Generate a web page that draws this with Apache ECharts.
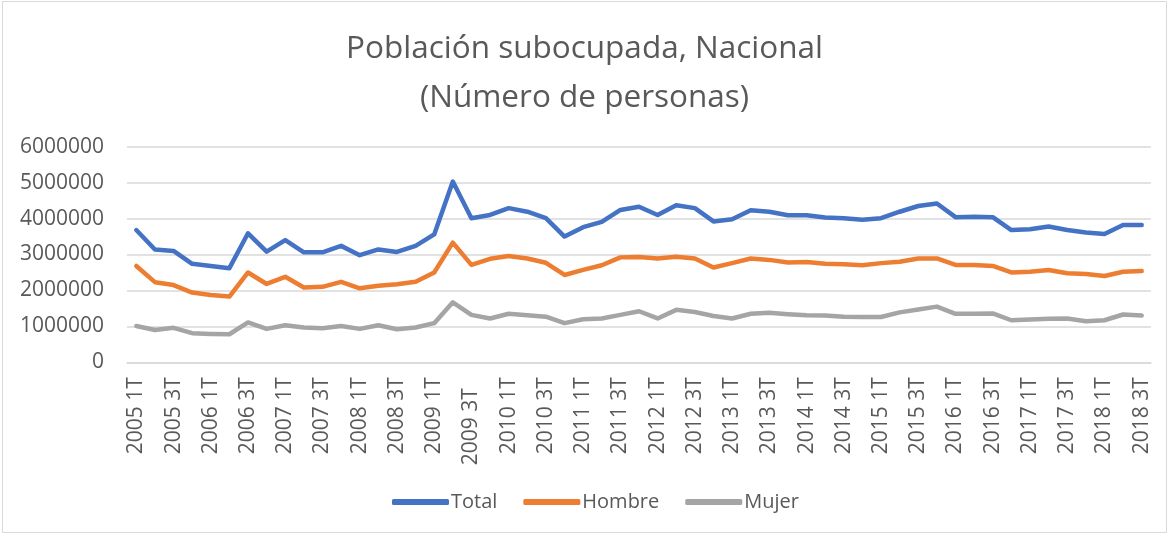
<!DOCTYPE html>
<html>
<head>
<meta charset="utf-8">
<script src="https://cdn.jsdelivr.net/npm/echarts@6/dist/echarts.min.js"></script>
<style>
html,body{margin:0;padding:0;background:#fff;}
#chart{width:1169px;height:539px;}
</style>
</head>
<body>
<div id="chart"></div>
<script>
const categories = [
  "2005 1T","2005 2T","2005 3T","2005 4T",
  "2006 1T","2006 2T","2006 3T","2006 4T",
  "2007 1T","2007 2T","2007 3T","2007 4T",
  "2008 1T","2008 2T","2008 3T","2008 4T",
  "2009 1T","2009 2T","2009 3T  ","2009 4T",
  "2010 1T","2010 2T","2010 3T","2010 4T",
  "2011 1T","2011 2T","2011 3T","2011 4T",
  "2012 1T","2012 2T","2012 3T","2012 4T",
  "2013 1T","2013 2T","2013 3T","2013 4T",
  "2014 1T","2014 2T","2014 3T","2014 4T",
  "2015 1T","2015 2T","2015 3T","2015 4T",
  "2016 1T","2016 2T","2016 3T","2016 4T",
  "2017 1T","2017 2T","2017 3T","2017 4T",
  "2018 1T","2018 2T","2018 3T"
];
const total = [
  3680000,3140000,3100000,2740000,2680000,2620000,3590000,3080000,3400000,3060000,
  3060000,3240000,2980000,3140000,3070000,3240000,3560000,5030000,4010000,4100000,
  4290000,4190000,4010000,3500000,3760000,3910000,4240000,4330000,4100000,4370000,
  4290000,3920000,3980000,4230000,4190000,4090000,4090000,4030000,4010000,3970000,
  4010000,4190000,4350000,4420000,4040000,4050000,4040000,3680000,3700000,3780000,
  3680000,3610000,3570000,3820000,3820000
];
const hombre = [
  2680000,2230000,2150000,1940000,1870000,1830000,2500000,2180000,2380000,2080000,
  2100000,2240000,2060000,2130000,2170000,2240000,2500000,3330000,2710000,2880000,
  2960000,2890000,2770000,2430000,2570000,2700000,2920000,2930000,2890000,2940000,
  2890000,2640000,2760000,2890000,2850000,2780000,2790000,2740000,2730000,2700000,
  2760000,2800000,2890000,2890000,2710000,2710000,2680000,2500000,2520000,2570000,
  2480000,2460000,2400000,2520000,2540000
];
const mujer = [
  1010000,900000,960000,810000,790000,780000,1110000,930000,1030000,970000,
  950000,1010000,930000,1030000,920000,970000,1090000,1670000,1320000,1220000,
  1350000,1310000,1270000,1090000,1200000,1220000,1320000,1420000,1220000,1460000,
  1400000,1290000,1220000,1350000,1380000,1340000,1310000,1300000,1270000,1260000,
  1260000,1390000,1470000,1550000,1350000,1350000,1360000,1170000,1190000,1210000,
  1220000,1140000,1170000,1330000,1300000
];
const yTicks = { min: 0, max: 6000000, interval: 1000000 };
const titleLines = ['Población subocupada, Nacional', '(Número de personas)'];

const txt = '#595959';
const font = "'Open Sans', 'Noto Sans', sans-serif";
const chart = echarts.init(document.getElementById('chart'), null, {renderer:'canvas'});
const mk = (name, data, color) => ({
  name, type:'line', data, showSymbol:false, symbol:'none', smooth:false,
  lineStyle:{ width:4.5, color, cap:'round', join:'round' },
  itemStyle:{ color },
  emphasis:{ disabled:true }, animation:false
});
chart.setOption({
  animation:false,
  textStyle:{ fontFamily: font },
  graphic:[{ type:'rect', shape:{x:2.5,y:1.5,width:1164,height:531},
    style:{ fill:'none', stroke:'#d9d9d9', lineWidth:1 }, silent:true }],
  title: titleLines.map((t, i) => ({
    text: t, left: 'center', top: 28 + i * 49, padding: 0,
    textStyle:{ fontFamily:font, fontSize:31.5, fontWeight:'normal', color:txt, lineHeight:42 }
  })),
  legend:{
    data:['Total','Hombre','Mujer'],
    left:387, top:487, itemWidth:57, itemHeight:6, itemGap:26,
    icon:'roundRect',
    textStyle:{ fontFamily:font, fontSize:20, color:txt, padding:[0,0,0,-3] }
  },
  grid:{ left:127, right:18, top:146.7, bottom:176.7, containLabel:false },
  xAxis:{
    type:'category', data:categories, boundaryGap:true,
    axisLine:{ show:true, lineStyle:{ color:'#d9d9d9', width:1.5 } },
    axisTick:{ show:false },
    axisLabel:{ interval:1, rotate:90, margin:15, color:txt, fontSize:21, fontFamily:font },
    splitLine:{ show:false }
  },
  yAxis:{
    type:'value', min:yTicks.min, max:yTicks.max, interval:yTicks.interval,
    axisLine:{ show:false }, axisTick:{ show:false },
    axisLabel:{ color:txt, fontSize:21, fontFamily:font, margin:23, formatter: v => String(v) },
    splitLine:{ lineStyle:{ color:'#d9d9d9', width:1.5 } }
  },
  series:[ mk('Total', total, '#4472C4'), mk('Hombre', hombre, '#ED7D31'), mk('Mujer', mujer, '#A5A5A5') ]
});
</script>
</body>
</html>
